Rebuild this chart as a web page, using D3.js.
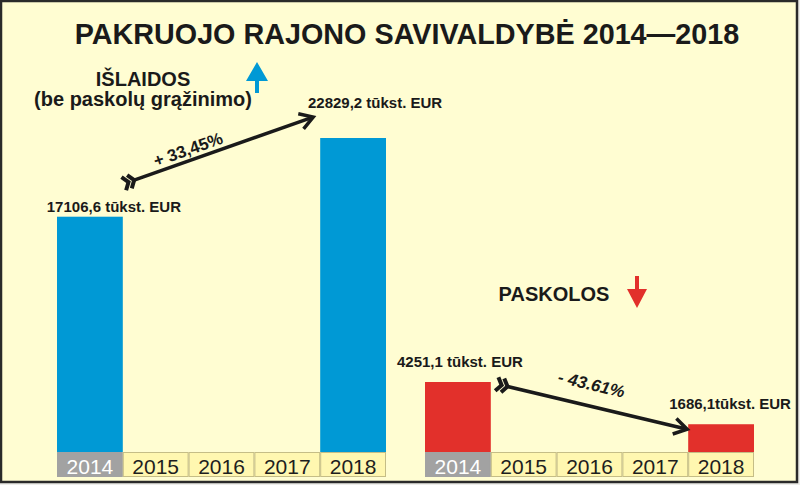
<!DOCTYPE html>
<html><head><meta charset="utf-8">
<script src="https://cdn.jsdelivr.net/npm/d3@7"></script>
<style>html,body{margin:0;padding:0;background:#eeeeea;}svg{display:block;font-family:"Liberation Sans",Arial,sans-serif;}</style>
</head><body>
<script>
const years = ["2014","2015","2016","2017","2018"];
const expenseValues = [17106.6, null, null, null, 22829.2];
const loanValues = [4251.1, null, null, null, 1686.1];
const expenseLabels = ["17106,6 tūkst. EUR", "22829,2 tūkst. EUR"];
const loanLabels = ["4251,1 tūkst. EUR", "1686,1tūkst. EUR"];
const expenseChange = "+ 33,45%";
const loanChange = "- 43.61%";
const title = "PAKRUOJO RAJONO SAVIVALDYBĖ 2014—2018";

const W = 800, H = 485;
const svg = d3.select("body").append("svg").attr("width", W).attr("height", H);
svg.append("rect").attr("x",1).attr("y",1).attr("width",796).attr("height",481)
  .attr("fill","#fffdd2").attr("stroke","#2a2a2a").attr("stroke-width",2.5);

const baseY = 452, cellH = 25;
const xL = d3.scaleBand().domain(years).range([57, 386]).padding(0);
const xR = d3.scaleBand().domain(years).range([425, 754]).padding(0);
const yL = d3.scaleLinear().domain([0, 22829.2]).range([baseY, 138]);
const yR = d3.scaleLinear().domain([0, 4251.1]).range([baseY, 382]);

function panel(x, y, vals, color){
  const g = svg.append("g");
  g.selectAll("rect.bar").data(years.map((yr,i)=>({yr, v: vals[i]})).filter(d=>d.v!=null))
    .join("rect").attr("class","bar")
    .attr("x", d=>x(d.yr)).attr("width", x.bandwidth())
    .attr("y", d=>y(d.v)).attr("height", d=>y(0)-y(d.v)).attr("fill", color);
  const cells = g.selectAll("g.cell").data(years).join("g").attr("class","cell");
  cells.append("rect").attr("x", d=>x(d)+0.5).attr("y", baseY+0.5)
    .attr("width", x.bandwidth()-1).attr("height", cellH-1)
    .attr("fill", (d,i)=> i===0 ? "#a2a2a2" : "#fff7b0")
    .attr("stroke", (d,i)=> i===0 ? "#a2a2a2" : "#c5bd86").attr("stroke-width",1);
  cells.append("text").attr("x", d=>x(d)+x.bandwidth()/2).attr("y", baseY+21.5)
    .attr("text-anchor","middle").attr("font-size",21)
    .attr("fill",(d,i)=> i===0 ? "#ffffff" : "#1e1e1e").text(d=>d);
}
panel(xL, yL, expenseValues, "#0099d5");
panel(xR, yR, loanValues, "#e2302b");

// Title
const t = svg.append("text").attr("x", 407).attr("y", 44).attr("text-anchor","middle")
  .attr("font-weight","bold").attr("font-size",28).attr("fill","#1a1a1a").text(title);
const tl = t.node().getComputedTextLength();
t.attr("font-size", 28*665/tl);

// Section headings
svg.append("text").attr("x",143).attr("y",86).attr("text-anchor","middle")
  .attr("font-weight","bold").attr("font-size",20).attr("fill","#1a1a1a").text("IŠLAIDOS");
svg.append("text").attr("x",143).attr("y",106).attr("text-anchor","middle")
  .attr("font-weight","bold").attr("font-size",20).attr("fill","#1a1a1a").text("(be paskolų grąžinimo)");
svg.append("text").attr("x",554).attr("y",301).attr("text-anchor","middle")
  .attr("font-weight","bold").attr("font-size",20).attr("fill","#1a1a1a").text("PASKOLOS");

// Up / down indicator arrows
svg.append("path").attr("d","M257,62 L268,81 L259,81 L259,93 L255,93 L255,81 L246,81 Z").attr("fill","#0099d5");
svg.append("path").attr("d","M635,276 L639,276 L639,289 L647,289 L637,308 L627,289 L635,289 Z").attr("fill","#e2302b");

// Value labels
function vlabel(x, y, txt, anchor){
  svg.append("text").attr("x",x).attr("y",y).attr("text-anchor",anchor||"start")
    .attr("font-weight","bold").attr("font-size",15).attr("fill","#1a1a1a").text(txt);
}
vlabel(xL("2014")+xL.bandwidth()/2+24, yL(expenseValues[0])-5, expenseLabels[0], "middle");
vlabel(xL("2018")+xL.bandwidth()/2+22, yL(expenseValues[4])-30, expenseLabels[1], "middle");
vlabel(xR("2014")+xR.bandwidth()/2+2, yR(loanValues[0])-15, loanLabels[0], "middle");
vlabel(xR("2018")+xR.bandwidth()/2+9, yR(loanValues[4])-15, loanLabels[1], "middle");

// Trend arrows
function trend(x1,y1,x2,y2,label,lx,ly,italic){
  const ang = Math.atan2(y2-y1, x2-x1)*180/Math.PI;
  const len = Math.hypot(x2-x1,y2-y1);
  const g = svg.append("g").attr("transform",`translate(${x1},${y1}) rotate(${ang})`);
  const c = "#1a1a1a";
  g.append("path").attr("d","M0,-7 L5,0 L0,7 M6,-7 L11,0 L6,7").attr("fill","none")
    .attr("stroke",c).attr("stroke-width",4).attr("stroke-linejoin","miter");
  g.append("line").attr("x1",11).attr("y1",0).attr("x2",len-1).attr("y2",0)
    .attr("stroke",c).attr("stroke-width",3.5);
  g.append("path").attr("d",`M${len-13},-8 L${len},0 L${len-13},8`).attr("fill","none")
    .attr("stroke",c).attr("stroke-width",3.5).attr("stroke-linejoin","miter");
  svg.append("text").attr("transform",`translate(${lx},${ly}) rotate(${ang})`)
    .attr("text-anchor","middle").attr("font-weight","bold").attr("font-size",17)
    .attr("font-style", italic ? "italic" : "normal").attr("fill",c).text(label);
}
trend(xL("2014")+xL.bandwidth()+1, yL(expenseValues[0])-33, xL("2018")-7, yL(expenseValues[4])-21,
  expenseChange, 190, 155, false);
trend(xR("2014")+xR.bandwidth()+6, yR(loanValues[0])+2, xR("2018")-1, yR(loanValues[4])+5,
  loanChange, 590, 390, true);
</script>
</body></html>
